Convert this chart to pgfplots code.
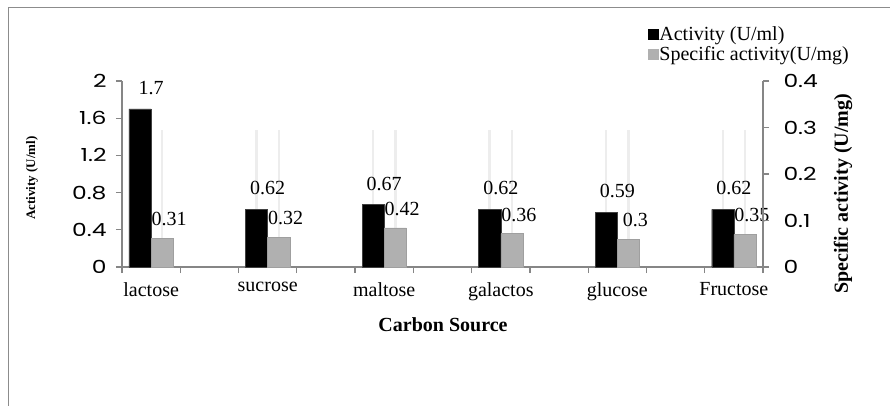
\documentclass[border=0pt]{standalone}
\usepackage{fontspec}
\setmainfont{Liberation Serif}
\newfontfamily\tickfont[FakeStretch=1.3]{Poppins}
\usepackage{pgfplots}
\pgfplotsset{compat=1.18}
\definecolor{axgray}{RGB}{134,134,134}
\definecolor{framegray}{RGB}{140,140,140}
\begin{document}
\begin{tikzpicture}
\path[use as bounding box] (0,0) rectangle (890bp,-406bp);
\draw[color=framegray, line width=1.5bp] (8.5bp,-406bp) -- (8.5bp,-7.5bp) -- (890bp,-7.5bp);
\begin{axis}[
 at={(122bp,-267bp)}, anchor=south west,
 scale only axis, width=641bp, height=186bp,
 xmin=-0.25, xmax=5.25, ymin=0, ymax=2,
 axis y line*=left, axis x line*=bottom,
 axis line style={axgray, line width=1.2bp},
 tick style={axgray, line width=1.2bp},
 major tick length=6bp, tick align=outside,
 xtick={-0.25,0.25,0.75,1.25,1.75,2.25,2.75,3.25,3.75,4.25,4.75,5.25},
 xticklabels={},
 extra x ticks={0,1,2,3,4,5},
 extra x tick labels={lactose,sucrose,maltose,galactos,glucose,Fructose},
 extra x tick style={tick style={draw=none}},
 x tick label style={font=\fontsize{20bp}{24bp}\selectfont, inner sep=0pt, yshift=-9bp},
 ytick={0,0.4,0.8,1.2,1.6,2},
 yticklabels={0,0.4,0.8,1.2,1.6,2},
 y tick label style={font=\tickfont\fontsize{18bp}{22bp}\selectfont, xshift=-6bp},
 legend style={at={(axis description cs:0.82,1.30)}, anchor=north west, draw=none, fill=none,
   font=\fontsize{20bp}{21bp}\selectfont, inner sep=0pt, row sep=2bp,
   nodes={inner sep=1.2bp}},
 legend cell align=left,
 clip=false,
 nodes near coords={\pgfmathprintnumber[fixed,precision=2,assume math mode=true]{\pgfplotspointmeta}},
]
\addplot[ycomb, color=gray!14, line width=2.5bp, mark=none, forget plot, nodes near coords={}] coordinates {
 (-0.095,1.47) (0.095,1.47) (0.905,1.47) (1.095,1.47) (1.905,1.47) (2.095,1.47)
 (2.905,1.47) (3.095,1.47) (3.905,1.47) (4.095,1.47) (4.905,1.47) (5.095,1.47)};
\addplot[ybar, bar width=0.19, bar shift=-0.095, fill=black, draw=black!75,
  every node near coord/.append style={font=\fontsize{20bp}{24bp}\selectfont, text=black, inner sep=0pt, anchor=south, yshift=14bp},
  legend image code/.code={\fill[black] (0bp,-5bp) rectangle (10bp,5bp);}]
 coordinates {(0,1.7) (1,0.62) (2,0.67) (3,0.62) (4,0.59) (5,0.62)};
\addlegendentry{Activity (U/ml)}
\addplot[ybar, bar width=0.19, bar shift=0.095, fill=gray!62, draw=gray!75,
  every node near coord/.append style={font=\fontsize{20bp}{24bp}\selectfont, text=black, inner sep=0pt, anchor=south, yshift=12bp, xshift=18bp},
  legend image code/.code={\fill[gray!62] (0bp,-5bp) rectangle (10bp,5bp);}]
 coordinates {(0,0.31) (1,0.32) (2,0.42) (3,0.36) (4,0.30) (5,0.35)};
\addlegendentry{Specific activity(U/mg)}
\end{axis}
\begin{axis}[
 at={(122bp,-267bp)}, anchor=south west,
 scale only axis, width=641bp, height=186bp,
 xmin=-0.25, xmax=5.25, ymin=0, ymax=0.4,
 axis y line*=right, axis x line=none,
 axis line style={axgray, line width=1.2bp},
 tick style={axgray, line width=1.2bp},
 major tick length=6bp, tick align=outside,
 ytick={0,0.1,0.2,0.3,0.4},
 yticklabels={0,0.1,0.2,0.3,0.4},
 y tick label style={font=\tickfont\fontsize{18bp}{22bp}\selectfont, xshift=11bp},
]
\addplot[draw=none, forget plot] coordinates {(0,0)};
\end{axis}
\node[rotate=90, font=\bfseries\fontsize{13bp}{15bp}\selectfont] at (32bp,-178bp) {Activity (U/ml)};
\node[rotate=90, font=\bfseries\fontsize{20bp}{24bp}\selectfont] at (843bp,-194bp) {Specific activity (U/mg)};
\node[font=\bfseries\fontsize{20bp}{24bp}\selectfont] at (443bp,-325bp) {Carbon Source};
\end{tikzpicture}
\end{document}
